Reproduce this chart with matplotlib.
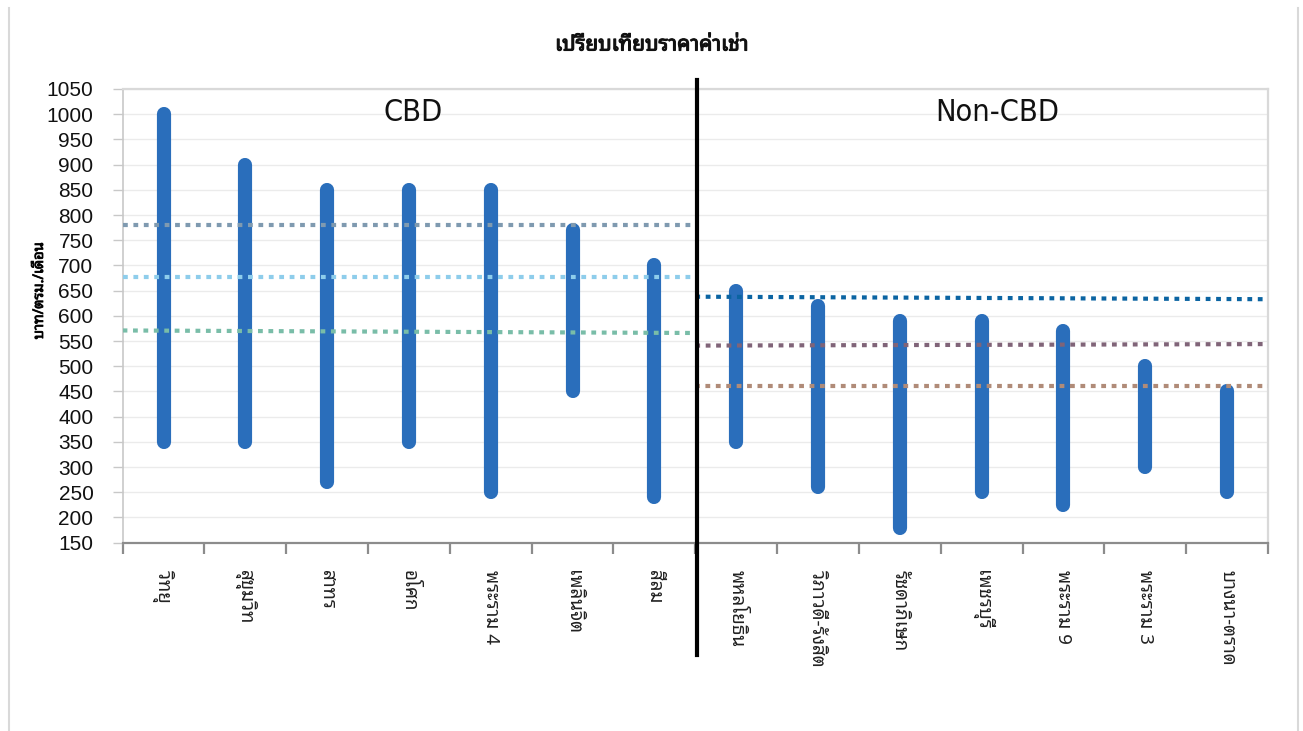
import matplotlib
matplotlib.use("Agg")
import matplotlib.pyplot as plt
from matplotlib import font_manager
from matplotlib.ft2font import FT2Font
import matplotlib.transforms as mtransforms
import matplotlib.patheffects as pe
from matplotlib.lines import Line2D

# ---------------- data ----------------
categories = ["วิทยุ", "สุขุมวิท", "สาทร", "อโศก", "พระราม 4", "เพลินจิต", "สีลม",
              "พหลโยธิน", "วิภาวดี-รังสิต", "รัชดาภิเษก", "เพชรบุรี", "พระราม 9",
              "พระราม 3", "บางนา-ตราด"]
low_values = [350, 350, 270, 350, 250, 450, 240,
              350, 260, 180, 250, 225, 300, 250]
high_values = [1000, 900, 850, 850, 850, 770, 700,
               650, 620, 590, 590, 570, 500, 450]

# reference lines: (start value, end value) for each zone
cbd_lines = [(781, 781), (678, 678), (571, 566)]
noncbd_lines = [(638, 633), (541, 544), (461, 461)]
cbd_colors = ["#7F9AB0", "#8ECDEB", "#79BDA8"]
noncbd_colors = ["#0B64A2", "#806478", "#B08B78"]

yticks = list(range(150, 1051, 50))
title = "เปรียบเทียบราคาค่าเช่า"
ylabel = "บาท/ตรม./เดือน"
zone_labels = ["CBD", "Non-CBD"]

# ---------------- fonts ----------------
def find_family(codepoint, prefer=()):
    found = []
    for f in font_manager.fontManager.ttflist:
        try:
            if codepoint in FT2Font(f.fname).get_charmap():
                found.append(f.name)
        except Exception:
            pass
    for p in prefer:
        if p in found:
            return p
    return found[0] if found else "DejaVu Sans"

thai_family = find_family(0x0E01, prefer=("Tahoma", "Noto Sans Thai Looped", "Noto Sans Thai",
                                           "Garuda", "Loma", "Norasi"))
names = {f.name for f in font_manager.fontManager.ttflist}
num_family = "Liberation Sans" if "Liberation Sans" in names else "DejaVu Sans"
narrow_family = [n for n in ("Liberation Sans Narrow", "DejaVu Sans") if n in names] or ["DejaVu Sans"]

bold_fx = [pe.withStroke(linewidth=0.8, foreground="#111111")]

# ---------------- figure ----------------
W, H = 1303, 731
fig = plt.figure(figsize=(W / 100, H / 100), dpi=100)
left, right, top, bottom = 122.6, 1268, 89, 542.7
ax = fig.add_axes([left / W, 1 - bottom / H, (right - left) / W, (bottom - top) / H])

x = list(range(len(categories)))
ax.set_xlim(-0.5, len(categories) - 0.5)
ax.set_ylim(150, 1050)

# grid
ax.set_yticks(yticks)
ax.yaxis.grid(True, color="#EBEBEB", lw=1.0)
ax.set_axisbelow(True)

# bars (floating range bars with rounded ends)
ax.vlines(x, low_values, high_values, colors="#2A6EBB", lw=10.2,
          capstyle="round", zorder=3)

# average lines
dots = (0, (1.15, 1.35))
for (a, b), c in zip(cbd_lines, cbd_colors):
    ax.plot([-0.5, 6.5], [a, b], color=c, lw=3.0, ls=dots, zorder=4)
for (a, b), c in zip(noncbd_lines, noncbd_colors):
    ax.plot([6.5, 13.5], [a, b], color=c, lw=3.0, ls=dots, zorder=4)

# spines
for s in ("top", "right"):
    ax.spines[s].set_color("#D9D9D9")
    ax.spines[s].set_linewidth(1.6)
ax.spines["left"].set_color("#C8C8C8")
ax.spines["left"].set_linewidth(1.2)
ax.spines["bottom"].set_color("#8C8C8C")
ax.spines["bottom"].set_linewidth(1.6)

# ticks
ax.tick_params(axis="y", length=7, color="#C8C8C8", width=1.0, pad=14,
               labelsize=15, labelcolor="#111111")
for lab in ax.get_yticklabels():
    lab.set_family(num_family)
ax.set_xticks(x)
ax.set_xticklabels(categories, rotation=270, family=thai_family, fontsize=13.5,
                   color="#222222", va="top", ha="center")
ax.tick_params(axis="x", which="major", length=0, pad=20)
ax.set_xticks([i - 0.5 for i in range(len(categories) + 1)], minor=True)
ax.tick_params(axis="x", which="minor", length=8, color="#8C8C8C", width=1.6)

ax.set_ylabel(ylabel, family=thai_family, fontsize=10.5, labelpad=10,
              path_effects=[pe.withStroke(linewidth=0.6, foreground="#111111")])
ax.yaxis.set_label_coords(-0.066, 0.555)

# divider between CBD and Non-CBD
trans = mtransforms.blended_transform_factory(ax.transData, ax.transAxes)
ax.add_line(Line2D([6.52, 6.52], [1 + (top - 80) / (bottom - top), -(655 - bottom) / (bottom - top)],
                   transform=trans, color="black", lw=3.0, clip_on=False, zorder=6))

# zone labels
ax.text(3.05, 1004, zone_labels[0], family=narrow_family, fontsize=22, fontstretch="condensed",
        ha="center", va="center", color="#111111", zorder=5)
ax.text(10.19, 1004, zone_labels[1], family=narrow_family, fontsize=22, fontstretch="condensed",
        ha="center", va="center", color="#111111", zorder=5)

# title
fig.text(652 / W, 1 - 45 / H, title, family=thai_family, fontsize=15,
         ha="center", va="center", color="#111111", path_effects=bold_fx)

# outer frame (left and right edges)
fig.add_artist(Line2D([9 / W, 9 / W], [0, 1 - 8 / H], transform=fig.transFigure,
                      color="#D9D9D9", lw=1.5))
fig.add_artist(Line2D([1298 / W, 1298 / W], [0, 1 - 8 / H], transform=fig.transFigure,
                      color="#D9D9D9", lw=1.5))

fig.savefig("out.png", dpi=100)
